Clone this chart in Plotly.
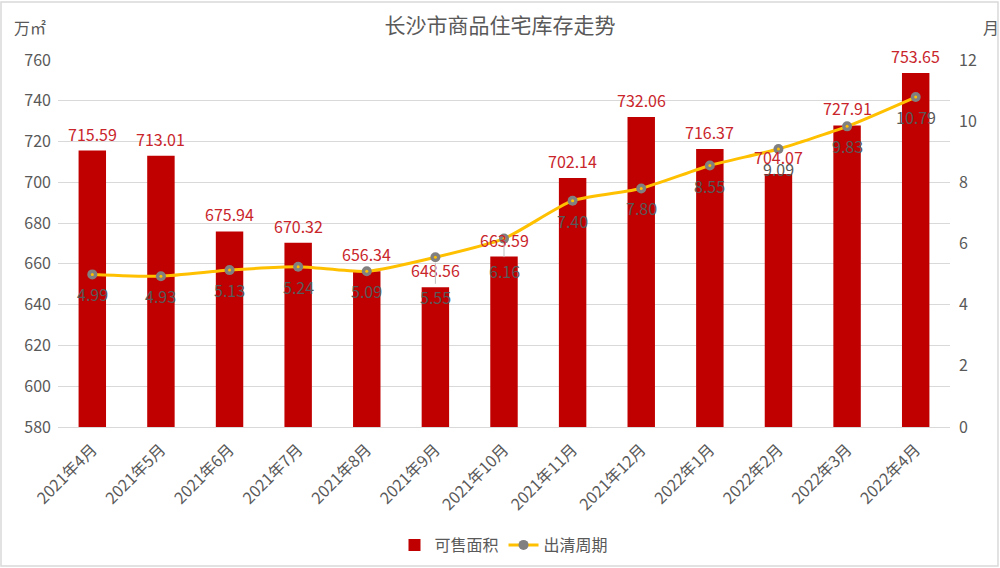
import plotly.graph_objects as go

months = ["2021年4月", "2021年5月", "2021年6月", "2021年7月", "2021年8月", "2021年9月",
          "2021年10月", "2021年11月", "2021年12月", "2022年1月", "2022年2月", "2022年3月", "2022年4月"]
area = [715.59, 713.01, 675.94, 670.32, 656.34, 648.56, 663.59, 702.14, 732.06, 716.37, 704.07, 727.91, 753.65]
cycle = [4.99, 4.93, 5.13, 5.24, 5.09, 5.55, 6.16, 7.40, 7.80, 8.55, 9.09, 9.83, 10.79]

FONT = "Noto Sans CJK SC"
GRAY = "#595959"
RED = "#C00000"
GOLD = "#FFC000"

fig = go.Figure()
fig.add_trace(go.Bar(x=months, y=area, name="可售面积", marker=dict(color=RED, line=dict(width=0)),
                     yaxis="y"))
fig.add_trace(go.Scatter(x=months, y=cycle, name="出清周期", mode="lines+markers", yaxis="y2",
                         line=dict(color=GOLD, width=3, shape="spline", smoothing=0.6),
                         marker=dict(color="#808080", size=10, line=dict(width=0))))
fig.add_trace(go.Scatter(x=months, y=cycle, mode="markers", yaxis="y2", showlegend=False,
                         hoverinfo="skip", marker=dict(color=GOLD, size=3)))

ann = []
for m, v in zip(months, area):
    ann.append(dict(x=m, y=v, xref="x", yref="y", text=f"{v:.2f}", showarrow=False,
                    yanchor="bottom", yshift=3, font=dict(family=FONT, size=16, color="#C9252B")))
for i, (m, v) in enumerate(zip(months, cycle)):
    if i in (5, 6):
        off = 40 if i == 5 else 32
        ann.append(dict(x=m, y=v, xref="x", yref="y2", text=f"{v:.2f}", showarrow=True,
                        arrowhead=0, arrowwidth=1, arrowcolor="#BFBFBF", ax=0, ay=off,
                        standoff=6, font=dict(family=FONT, size=16, color=GRAY)))
    else:
        ann.append(dict(x=m, y=v, xref="x", yref="y2", text=f"{v:.2f}", showarrow=False,
                        yanchor="top", yshift=-6, font=dict(family=FONT, size=16, color=GRAY)))

ann.append(dict(x=-0.052, y=1.09, xref="paper", yref="paper", text="万㎡", showarrow=False,
                xanchor="left", yanchor="middle", font=dict(family=FONT, size=16, color=GRAY)))
ann.append(dict(x=1.035, y=1.09, xref="paper", yref="paper", text="月", showarrow=False,
                xanchor="left", yanchor="middle", font=dict(family=FONT, size=16, color=GRAY)))

fig.update_layout(
    width=1000, height=568,
    margin=dict(l=58, r=50, t=60, b=141, autoexpand=False),
    paper_bgcolor="white", plot_bgcolor="white",
    font=dict(family=FONT, color=GRAY, size=16),
    title=dict(text="长沙市商品住宅库存走势", x=0.5, xanchor="center", y=0.955, yanchor="middle",
               font=dict(family=FONT, size=21, color=GRAY)),
    bargap=0.6,
    xaxis=dict(tickangle=-45, showline=True, linecolor="#D9D9D9", linewidth=1, showgrid=False,
               tickfont=dict(size=16, color=GRAY), ticks="", automargin=False,
               ticklabelstandoff=6, range=[-0.5, len(months) - 0.5]),
    yaxis=dict(range=[580, 760], dtick=20, showgrid=True, gridcolor="#D9D9D9", gridwidth=1,
               zeroline=False, tickfont=dict(size=16, color=GRAY), ticks="", ticklabelstandoff=6,
               automargin=False),
    yaxis2=dict(range=[0, 12], dtick=2, overlaying="y", side="right", showgrid=False,
                zeroline=False, tickfont=dict(size=16, color=GRAY), ticks="", ticklabelstandoff=8,
                automargin=False),
    legend=dict(orientation="h", x=0.5, xanchor="center", y=-0.3215, yanchor="middle",
                font=dict(size=16, color=GRAY)),
    annotations=ann,
    shapes=[dict(type="rect", xref="paper", yref="paper", x0=-0.0639, x1=1.0538, y0=-0.379, y1=1.158,
                 line=dict(color="#D9D9D9", width=1.5), fillcolor="rgba(0,0,0,0)")],
)

fig.write_html("out.html")
